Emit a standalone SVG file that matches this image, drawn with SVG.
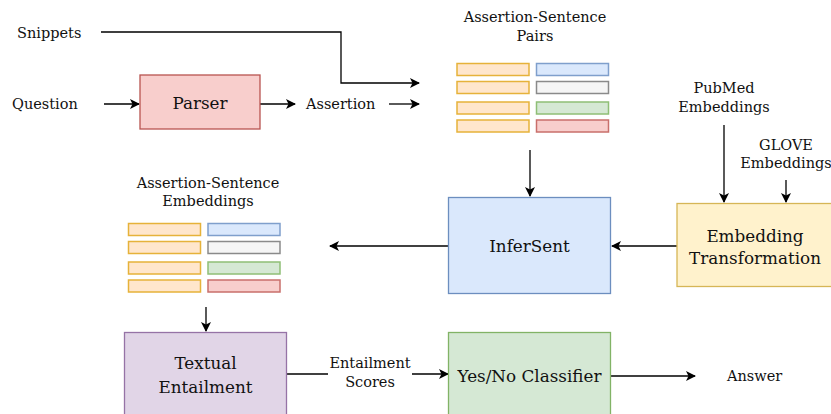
<svg xmlns="http://www.w3.org/2000/svg" width="831" height="414" viewBox="0 0 831 414">
  <style>
    text { font-family: "DejaVu Serif", "Liberation Serif", serif; fill: #111; }
    .lbl { font-size: 14.5px; }
    .box { font-size: 16.8px; }
    .edge { fill: none; stroke: #000; stroke-width: 1.3; }
    .a { fill: #ffe6cc; stroke: #e6b23a; stroke-width: 1.5; }
    .blue { fill: #dae8fc; stroke: #7f9fcc; stroke-width: 1.5; }
    .grey { fill: #f5f5f5; stroke: #8a8a8a; stroke-width: 1.5; }
    .green { fill: #d5e8d4; stroke: #8fbf76; stroke-width: 1.5; }
    .red { fill: #f8cecc; stroke: #c96f6b; stroke-width: 1.5; }
  </style>
  <defs>
    <marker id="arrow" viewBox="0 0 10 10" refX="9" refY="5" markerWidth="10" markerHeight="10" markerUnits="userSpaceOnUse" orient="auto">
      <path d="M0,0 L10,5 L0,10 L2.5,5 Z" fill="#000"/>
    </marker>
  </defs>

  <!-- connectors -->
  <g id="connectors">
    <path class="edge" d="M101,32 H341 V83 H419" marker-end="url(#arrow)"/>
    <path class="edge" d="M104,104 H139" marker-end="url(#arrow)"/>
    <path class="edge" d="M260,104 H295" marker-end="url(#arrow)"/>
    <path class="edge" d="M389,104 H419" marker-end="url(#arrow)"/>
    <path class="edge" d="M530,150 V196" marker-end="url(#arrow)"/>
    <path class="edge" d="M724,125 V202" marker-end="url(#arrow)"/>
    <path class="edge" d="M786,180 V202" marker-end="url(#arrow)"/>
    <path class="edge" d="M677,246 H612" marker-end="url(#arrow)"/>
    <path class="edge" d="M448,246 H330" marker-end="url(#arrow)"/>
    <path class="edge" d="M206,307 V331" marker-end="url(#arrow)"/>
    <path class="edge" d="M287,374 H448" marker-end="url(#arrow)"/>
    <path class="edge" d="M611,376 H695" marker-end="url(#arrow)"/>
    <rect x="328" y="353" width="84" height="36" fill="#fff"/>
    <text class="lbl" x="370" y="368" text-anchor="middle">Entailment</text>
    <text class="lbl" x="370" y="387" text-anchor="middle">Scores</text>
  </g>

  <!-- inputs -->
  <g id="snippets"><text class="lbl" x="17" y="38">Snippets</text></g>
  <g id="question"><text class="lbl" x="12" y="109">Question</text></g>

  <g id="parser">
    <rect x="140" y="75" width="120" height="54" fill="#f8cecc" stroke="#b85450" stroke-width="1.3"/>
    <text class="box" x="200" y="109" text-anchor="middle">Parser</text>
  </g>

  <g id="assertion"><text class="lbl" x="306" y="109">Assertion</text></g>

  <g id="pairs">
    <text class="lbl" x="535" y="22" text-anchor="middle">Assertion-Sentence</text>
    <text class="lbl" x="535" y="41" text-anchor="middle">Pairs</text>
    <rect class="a" x="457" y="63.5" width="72" height="12"/>
    <rect class="blue" x="536.5" y="63.5" width="72" height="12"/>
    <rect class="a" x="457" y="81.5" width="72" height="12"/>
    <rect class="grey" x="536.5" y="81.5" width="72" height="12"/>
    <rect class="a" x="457" y="102" width="72" height="12"/>
    <rect class="green" x="536.5" y="102" width="72" height="12"/>
    <rect class="a" x="457" y="120" width="72" height="12"/>
    <rect class="red" x="536.5" y="120" width="72" height="12"/>
  </g>

  <g id="pubmed">
    <text class="lbl" x="724" y="93" text-anchor="middle">PubMed</text>
    <text class="lbl" x="724" y="112" text-anchor="middle">Embeddings</text>
  </g>

  <g id="glove">
    <text class="lbl" x="786" y="150" text-anchor="middle">GLOVE</text>
    <text class="lbl" x="786" y="168" text-anchor="middle">Embeddings</text>
  </g>

  <g id="infersent">
    <rect x="448.5" y="197.5" width="162" height="96" fill="#dae8fc" stroke="#6c8ebf" stroke-width="1.3"/>
    <text class="box" x="529.5" y="252" text-anchor="middle">InferSent</text>
  </g>

  <g id="embedding-transformation">
    <rect x="677" y="203.5" width="158" height="83" fill="#fff2cc" stroke="#d6b656" stroke-width="1.3"/>
    <text class="box" x="755" y="242" text-anchor="middle">Embedding</text>
    <text class="box" x="755" y="264" text-anchor="middle">Transformation</text>
  </g>

  <g id="embeddings">
    <text class="lbl" x="208" y="188" text-anchor="middle">Assertion-Sentence</text>
    <text class="lbl" x="208" y="206" text-anchor="middle">Embeddings</text>
    <rect class="a" x="128.5" y="223.5" width="72" height="12"/>
    <rect class="blue" x="208" y="223.5" width="72" height="12"/>
    <rect class="a" x="128.5" y="241.5" width="72" height="12"/>
    <rect class="grey" x="208" y="241.5" width="72" height="12"/>
    <rect class="a" x="128.5" y="262" width="72" height="12"/>
    <rect class="green" x="208" y="262" width="72" height="12"/>
    <rect class="a" x="128.5" y="280" width="72" height="12"/>
    <rect class="red" x="208" y="280" width="72" height="12"/>
  </g>

  <g id="textual-entailment">
    <rect x="124.5" y="332.5" width="162" height="90" fill="#e1d5e7" stroke="#9673a6" stroke-width="1.3"/>
    <text class="box" x="205.5" y="369" text-anchor="middle">Textual</text>
    <text class="box" x="205.5" y="393" text-anchor="middle">Entailment</text>
  </g>

  <g id="classifier">
    <rect x="448.5" y="332.5" width="162" height="90" fill="#d5e8d4" stroke="#82b366" stroke-width="1.3"/>
    <text class="box" x="529.5" y="382" text-anchor="middle">Yes/No Classifier</text>
  </g>

  <g id="answer"><text class="lbl" x="727" y="381">Answer</text></g>
</svg>
